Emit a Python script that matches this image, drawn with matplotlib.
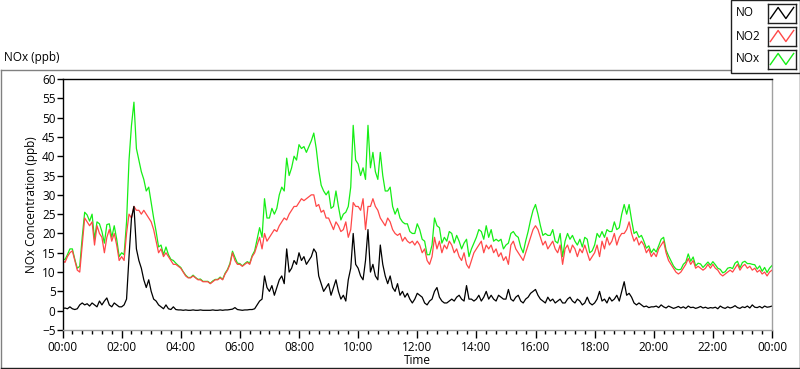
import numpy as np
import matplotlib
matplotlib.use("Agg")
import matplotlib.pyplot as plt
from matplotlib.lines import Line2D
from matplotlib.patches import Rectangle
from matplotlib.ticker import MultipleLocator

plt.rcParams['font.family'] = ['Open Sans', 'DejaVu Sans']

# 5-minute samples, 00:00 .. 24:00 (289 values)
NO2_ppb = [
    13, 12.5, 14, 15, 15.5, 13, 10.5, 10, 17, 24, 23, 22,
    23, 17, 22, 20, 19, 15, 19, 21, 18, 20, 17, 13,
    14, 13, 20, 25, 24, 27, 26, 26, 25, 26, 25, 24,
    23, 21, 18, 15, 16, 14, 15, 14, 13, 12, 12, 11.5,
    11, 10, 9, 8.5, 8.5, 9, 8.5, 8, 8, 7.5, 7.5, 7.5,
    7, 7.5, 8, 8, 8.5, 8, 9.5, 10.5, 12, 15, 13, 12,
    12, 11.5, 12, 12.5, 12, 14, 15, 17, 19, 16, 20, 18,
    19, 20, 21, 20.5, 22, 23, 24, 23.5, 25, 26, 27, 27,
    28, 29, 28.5, 29, 29.5, 30, 30, 27, 27.5, 25.5, 26, 24,
    24, 22.5, 21, 23, 22, 20.5, 21, 23, 19, 21, 28, 27,
    27, 26, 29, 21, 27, 27, 29, 27, 26, 24, 23, 22,
    24, 23, 21, 20, 19.5, 20, 18, 19, 18, 17.5, 18, 17,
    18, 17, 15, 16, 13, 12, 14, 19, 16, 18, 15, 17,
    16, 18, 17, 15, 16, 14, 13, 15, 12, 11, 13, 15,
    16, 17, 18, 15, 17, 16, 17, 15, 16, 14, 15, 13,
    14, 12, 17, 18, 16, 15, 14, 13, 15, 17, 19, 21,
    22, 21, 19, 17, 18, 16, 17, 18, 16, 15, 17, 12,
    16, 17, 15, 17, 16, 14, 16, 15, 17, 15, 13, 14,
    15, 17, 14, 18, 16, 19, 17, 18, 20, 17, 19, 20,
    20, 21, 23, 20, 18, 19, 17, 18, 17, 15, 16, 14,
    15, 14, 16, 17, 18, 15, 13, 12, 11, 10, 9.5, 10,
    11, 12, 13.5, 12, 13, 11, 11.5, 11, 10.5, 11, 12, 11,
    12, 11, 10.5, 9.5, 9, 9.5, 10, 10.5, 10, 11, 12, 10.5,
    11.5, 12, 11, 11.5, 10.5, 11, 10, 10.5, 9.5, 10, 9, 10, 10.5,
]

NO_ppb = [
    0.5, 0.7, 0.5, 1, 0.5, 0.3, 0.5, 1.5, 2, 1.5, 1.8, 1.2,
    2, 1.5, 1, 2.5, 1.5, 2.5, 3.3, 1.5, 1, 2, 1.5, 1,
    1, 1.5, 3, 14, 24, 27, 16, 13, 11, 8, 6, 8,
    5, 3, 2.5, 1.5, 1, 0.5, 1.5, 0.5, 0.3, 1, 0.3, 0.2,
    0.2, 0.1, 0.2, 0.1, 0.1, 0.2, 0.1, 0.1, 0.2, 0.1, 0.1, 0.1,
    0.1, 0.2, 0.1, 0.1, 0.2, 0.1, 0.2, 0.2, 0.3, 0.4, 0.8, 0.3,
    0.2, 0.1, 0.2, 0.2, 0.3, 0.3, 0.5, 1.5, 2.5, 3, 9, 6,
    5, 6.5, 4, 6, 8, 9, 7, 16, 10, 11, 13, 12,
    15, 13, 14, 12, 13, 14, 16, 15, 9, 7, 5, 6,
    7, 4, 6, 8, 5, 3, 4, 2.5, 8, 11, 20, 12,
    11, 9, 8, 13, 21, 10, 12, 9, 8, 17, 12, 9,
    7, 9, 6, 5, 7, 4, 5, 3.5, 4.5, 3, 2, 3,
    4.5, 4, 3.5, 2, 1.5, 2.5, 3, 5, 6, 3.5, 2.5, 2,
    2, 2.5, 3, 2.5, 3.5, 4, 3, 2.5, 6.5, 3, 3, 2.5,
    3, 4, 2.5, 3.5, 5, 3, 4, 3, 2.5, 4, 3.5, 3,
    3, 5.5, 3, 2.5, 3.5, 4, 2.5, 2, 3, 3.5, 4.5, 5,
    5.5, 4, 3, 2.5, 2, 3.5, 2.5, 3, 2, 2.5, 3, 2,
    2, 3, 3.5, 2.5, 2, 3, 2.5, 1.5, 2, 3.5, 2, 1.5,
    2, 3, 5, 2.5, 3, 2, 3.5, 2.5, 3, 4, 2.5, 5,
    7.5, 4, 4.5, 3.5, 2, 1.5, 2, 1.5, 1, 1.2, 0.8, 1,
    1, 1.2, 0.8, 1.5, 1, 0.7, 1.2, 0.9, 0.6, 0.8, 1.1, 0.7,
    1, 0.6, 1.2, 0.8, 0.9, 0.6, 0.8, 1.1, 0.7, 0.9, 0.6, 0.8,
    0.7, 0.9, 0.5, 1.2, 0.8, 0.6, 1, 0.7, 0.9, 1.3, 0.8, 0.6,
    1, 0.8, 1.2, 0.7, 1.5, 0.9, 0.8, 1.1, 0.7, 1.2, 0.9, 1, 1.2,
]

NOx_ppb = [
    13.5, 13.2, 14.5, 16, 16, 13.3, 11, 11.5, 19, 25.5, 24.8, 23.2,
    25, 18.5, 23, 22.5, 20.5, 17.5, 22.3, 22.5, 19, 22, 18.5, 14,
    15, 14.5, 23, 39, 48, 54, 42, 39, 36, 34, 31, 32,
    28, 24, 20.5, 16.5, 17, 14.5, 16.5, 14.5, 13.3, 13, 12.3, 11.7,
    11.2, 10.1, 9.2, 8.6, 8.6, 9.2, 8.6, 8.1, 8.2, 7.6, 7.6, 7.6,
    7.1, 7.7, 8.1, 8.1, 8.7, 8.1, 9.7, 10.7, 12.3, 15.4, 13.8, 12.3,
    12.2, 11.6, 12.2, 12.7, 12.3, 14.3, 15.5, 18.5, 21.5, 19, 29, 24,
    24, 26.5, 25, 26.5, 30, 32, 31, 39.5, 35, 37, 40, 39,
    43, 42, 42.5, 41, 42.5, 44, 46, 42, 36.5, 32.5, 31, 30,
    31, 26.5, 27, 31, 27, 23.5, 25, 25.5, 27, 32, 48, 39,
    38, 35, 37, 34, 48, 37, 41, 36, 34, 41, 35, 31,
    31, 32, 27, 25, 26.5, 24, 23, 22.5, 22.5, 20.5, 20, 20,
    22.5, 21, 18.5, 18, 14.5, 14.5, 17, 24, 22, 21.5, 17.5, 19,
    18, 20.5, 20, 17.5, 19.5, 18, 16, 17.5, 18.5, 14, 16, 17.5,
    19, 21, 20.5, 18.5, 22, 19, 21, 18, 18.5, 18, 18.5, 16,
    17, 17.5, 20, 20.5, 19.5, 19, 16.5, 15, 18, 20.5, 23.5, 26,
    27.5, 25, 22, 19.5, 20, 19.5, 19.5, 21, 18, 17.5, 20, 14,
    18, 20, 18.5, 19.5, 18, 17, 18.5, 16.5, 19, 18.5, 15, 15.5,
    17, 20, 19, 20.5, 19, 21, 20.5, 20.5, 23, 21, 21.5, 25,
    27.5, 25, 27.5, 23.5, 20, 20.5, 19, 19.5, 18, 16.2, 16.8, 15,
    16, 15.2, 16.8, 18.5, 19, 15.7, 14.2, 12.9, 11.6, 10.8, 10.6, 10.7,
    12, 12.6, 14.7, 12.8, 13.9, 11.6, 12.3, 12.1, 11.2, 11.9, 12.6, 11.8,
    12.7, 11.9, 11, 10.7, 9.8, 10.1, 11, 11.2, 10.9, 12.3, 12.8, 11.1,
    12.5, 12.8, 12.2, 12.2, 12, 11.9, 10.8, 11.6, 10.2, 11.2, 9.9, 11, 11.7,
]

x_tick_labels = ["00:00", "02:00", "04:00", "06:00", "08:00", "10:00", "12:00",
                 "14:00", "16:00", "18:00", "20:00", "22:00", "00:00"]
series_names = ["NO", "NO2", "NOx"]

hours = np.arange(len(NO_ppb)) * 5 / 60.0

W, H = 800, 369
fig = plt.figure(figsize=(W / 100, H / 100), dpi=100)
fig.patch.set_facecolor('white')

def fx(px):
    return px / W

def fy(py):
    return 1 - py / H

FS = 8.5

# outer panel frame
fig.add_artist(Line2D([fx(0.5), fx(0.5)], [fy(69.5), fy(367.5)], transform=fig.transFigure, color='#808080', lw=1))
fig.add_artist(Line2D([fx(0.5), fx(731)], [fy(69.5), fy(69.5)], transform=fig.transFigure, color='#808080', lw=1))
fig.add_artist(Line2D([fx(0.5), fx(799.5)], [fy(367.5), fy(367.5)], transform=fig.transFigure, color='#202020', lw=1))
fig.add_artist(Line2D([fx(799.5), fx(799.5)], [fy(69.5), fy(367.5)], transform=fig.transFigure, color='#202020', lw=1))

ax = fig.add_axes([fx(62.5), fy(330), (772 - 62.5) / W, (330 - 79) / H])

c_no, c_no2, c_nox = '#000000', '#ff4848', '#16ee16'
ax.plot(hours, NOx_ppb, color=c_nox, lw=0.9)
ax.plot(hours, NO2_ppb, color=c_no2, lw=0.9)
ax.plot(hours, NO_ppb, color=c_no, lw=0.9)

ax.set_xlim(0, 24)
ax.set_ylim(-5, 60)
ax.set_xticks(np.arange(0, 25, 2))
ax.set_xticklabels(x_tick_labels)
ax.xaxis.set_minor_locator(MultipleLocator(1 / 3))
ax.set_yticks(np.arange(-5, 61, 5))
ax.tick_params(axis='x', which='major', length=6, width=1, direction='out', labelsize=FS, pad=2, colors='black')
ax.tick_params(axis='x', which='minor', length=3, width=1, direction='out')
ax.tick_params(axis='y', which='major', length=4, width=1, direction='out', labelsize=FS, pad=1)

ax.spines['left'].set_color('black')
ax.spines['top'].set_color('black')
ax.spines['right'].set_color('#a0a0a0')
ax.spines['bottom'].set_color('#a0a0a0')
for s in ax.spines.values():
    s.set_linewidth(1)

fig.text(fx(32), fy(204.5), 'NOx Concentration (ppb)', rotation=90, ha='center', va='center', fontsize=FS)
fig.text(fx(417), fy(360), 'Time', ha='center', va='center', fontsize=FS)
fig.text(fx(4), fy(58), 'NOx (ppb)', ha='left', va='center', fontsize=FS)

# legend panel
fig.add_artist(Rectangle((fx(731), fy(72.5)), (799.5 - 731) / W, 72.5 / H, transform=fig.transFigure,
                         facecolor='white', edgecolor='#202020', lw=1, zorder=5))
colors = [c_no, c_no2, c_nox]
for i, (name, col) in enumerate(zip(series_names, colors)):
    cy = 13 + 23 * i
    fig.text(fx(736), fy(cy), name, ha='left', va='center', fontsize=FS, zorder=6)
    sax = fig.add_axes([fx(768), fy(cy + 9.5), 28 / W, 19 / H], zorder=6)
    sax.plot([0, 1, 2, 3], [0.15, 0.85, 0.15, 0.85], color=col, lw=1)
    sax.set_xlim(-0.3, 3.3)
    sax.set_ylim(-0.1, 1.1)
    sax.set_xticks([])
    sax.set_yticks([])
    for s in sax.spines.values():
        s.set_color('#202020')
        s.set_linewidth(1)

fig.savefig('out.png', dpi=100)
